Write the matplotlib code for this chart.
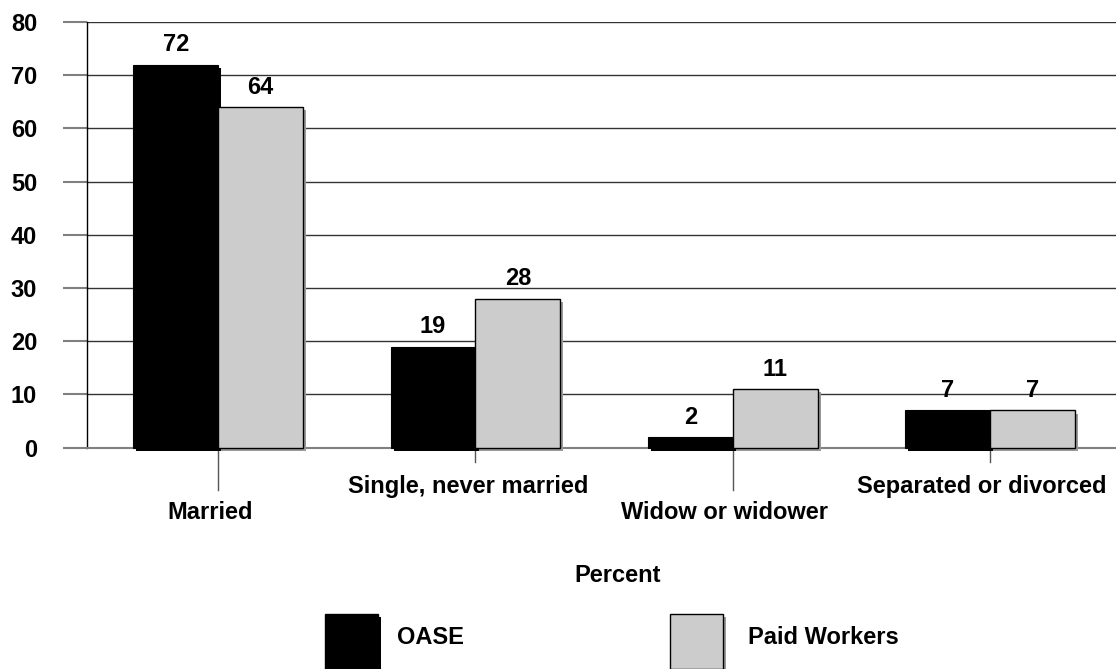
import numpy as np
import matplotlib.pyplot as plt
import matplotlib.patheffects as pe
import matplotlib.transforms as mtrans
from matplotlib.patches import Rectangle

plt.rcParams['font.family'] = ['Liberation Sans', 'DejaVu Sans']
plt.rcParams['font.weight'] = 'bold'

# marital status, percent of each group
categories = ['Married', 'Single, never married', 'Widow or widower', 'Separated or divorced']
oase = [72, 19, 2, 7]
paid_workers = [64, 28, 11, 7]
series_names = ['OASE', 'Paid Workers']
yticks = [0, 10, 20, 30, 40, 50, 60, 70, 80]

colors = {'OASE': 'black', 'Paid Workers': '#cccccc'}
shadows = {'OASE': 'black', 'Paid Workers': '#9a9a9a'}
FS = 17

W, H = 1116, 669
fig = plt.figure(figsize=(W / 100, H / 100), dpi=100)
ax = fig.add_axes([87 / W, 1 - 447.7 / H, 1 - 87 / W, (447.7 - 22) / H])

x = np.arange(len(categories))
w = 0.33


def shadow(name):
    return [pe.SimplePatchShadow(offset=(2.2, -2.2), shadow_rgbFace=shadows[name], alpha=1),
            pe.Normal()]


b1 = ax.bar(x - w / 2, oase, w, color=colors['OASE'], edgecolor='black', lw=0.8,
            clip_on=False, zorder=3)
b2 = ax.bar(x + w / 2, paid_workers, w, color=colors['Paid Workers'], edgecolor='black',
            lw=1, clip_on=False, zorder=4)
for p in b1:
    p.set_path_effects(shadow('OASE'))
for p in b2:
    p.set_path_effects(shadow('Paid Workers'))

ax.bar_label(b1, padding=6, fontsize=FS, fontweight='bold')
ax.bar_label(b2, padding=6, fontsize=FS, fontweight='bold')

ax.set_xlim(-0.51, 3.49)
ax.set_ylim(0, 80)
ax.set_yticks(yticks)
ax.set_xticks([])
ax.tick_params(axis='y', length=17, width=1.5, color='#808080', pad=19, labelsize=FS)
ax.yaxis.grid(True, color='#333333', lw=1)
ax.set_axisbelow(True)
for s in ['top', 'right']:
    ax.spines[s].set_visible(False)
ax.spines['left'].set_linewidth(1)
ax.spines['bottom'].set_color('#808080')
ax.spines['bottom'].set_linewidth(1.5)

# staggered category labels with drop lines
trans = mtrans.blended_transform_factory(ax.transData, ax.transAxes)
tick_end = [-0.099, -0.033]
label_y = [-0.153, -0.092]
for i, cat in enumerate(categories):
    ax.plot([i, i], [0, tick_end[i % 2]], transform=trans, color='#555555', lw=1,
            clip_on=False, zorder=1)
    ax.text(i - 0.03, label_y[i % 2], cat, transform=trans, ha='center', va='center',
            fontsize=FS, fontweight='bold')

fig.text(618 / W, 1 - 575 / H, 'Percent', ha='center', va='center', fontsize=FS,
         fontweight='bold')

# legend boxes along the bottom edge
legend_x = [325, 670]
text_x = [397, 748]
for name, lx, tx in zip(series_names, legend_x, text_x):
    r = Rectangle((lx / W, 0), 53 / W, 55 / H, transform=fig.transFigure,
                  facecolor=colors[name], edgecolor='black', lw=1)
    r.set_path_effects(shadow(name))
    fig.add_artist(r)
    fig.text(tx / W, 1 - 637 / H, name, ha='left', va='center', fontsize=FS,
             fontweight='bold')

fig.savefig('out.png', dpi=100)
